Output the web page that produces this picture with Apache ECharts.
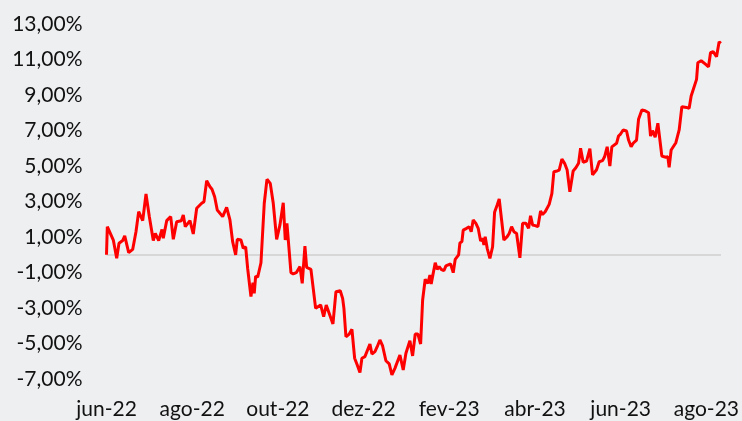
<!DOCTYPE html>
<html>
<head>
<meta charset="utf-8">
<script src="https://cdn.jsdelivr.net/npm/echarts@6/dist/echarts.min.js"></script>
<style>
html,body{margin:0;padding:0;background:#eeeff1;}
#c{width:742px;height:421px;}
</style>
</head>
<body>
<div id="c"></div>
<script>
// x: months elapsed since start of jun-22; y: cumulative return (%)
const monthLabels = ['jun-22','ago-22','out-22','dez-22','fev-23','abr-23','jun-23','ago-23'];
const yTicks = [-7,-5,-3,-1,1,3,5,7,9,11,13];
const t = [
0,0.019,0.065,0.159,0.238,0.292,0.378,0.425,0.518,0.611,
0.688,0.751,0.845,0.922,0.999,1.092,1.139,1.218,1.295,1.325,
1.405,1.498,1.559,1.638,1.745,1.792,1.839,1.948,2.025,2.105,
2.221,2.275,2.338,2.415,2.462,2.524,2.585,2.711,2.804,2.881,
2.944,3.014,3.052,3.138,3.192,3.248,3.294,3.371,3.418,3.448,
3.481,3.528,3.605,3.682,3.745,3.822,3.892,3.971,4.048,4.125,
4.172,4.211,4.305,4.358,4.428,4.461,4.515,4.568,4.631,4.671,
4.771,4.881,4.998,5.068,5.128,5.285,5.355,5.455,5.511,5.541,
5.588,5.665,5.728,5.791,5.852,5.915,5.961,6.031,6.148,6.195,
6.265,6.318,6.381,6.444,6.521,6.598,6.661,6.731,6.848,6.925,
6.988,7.081,7.144,7.205,7.268,7.331,7.378,7.438,7.501,7.548,
7.578,7.625,7.672,7.718,7.765,7.812,7.874,7.921,8.031,8.092,
8.138,8.218,8.248,8.295,8.325,8.404,8.465,8.512,8.558,8.621,
8.675,8.731,8.777,8.808,8.838,8.885,8.948,9.011,9.057,9.118,
9.165,9.221,9.274,9.351,9.398,9.454,9.508,9.571,9.617,9.648,
9.711,9.788,9.851,9.897,9.944,10.005,10.068,10.131,10.177,10.238,
10.331,10.394,10.441,10.518,10.565,10.628,10.691,10.751,10.814,10.891,
10.954,11.017,11.064,11.125,11.204,11.281,11.344,11.437,11.498,11.577,
11.624,11.685,11.748,11.794,11.904,11.950,11.997,12.058,12.137,12.184,
12.244,12.291,12.370,12.417,12.448,12.494,12.571,12.651,12.697,12.744,
12.805,12.868,12.961,13.054,13.101,13.131,13.178,13.288,13.365,13.428,
13.537,13.598,13.645,13.771,13.801,13.878,13.971,14.050,14.097,14.158,
14.237,14.298,14.337
];
const ret = [
0.00,1.58,1.55,0.83,-0.20,0.65,0.80,1.06,0.12,0.30,
1.30,2.43,1.92,3.42,2.15,0.80,1.20,0.80,1.43,0.93,
1.92,2.15,0.87,1.86,1.92,2.24,1.58,1.92,1.17,2.62,
2.90,2.99,4.17,3.83,3.69,3.27,2.52,2.15,2.67,1.96,
0.74,-0.01,0.87,0.83,0.36,0.45,-0.76,-2.36,-1.57,-2.17,
-1.20,-1.27,-0.45,2.90,4.25,4.02,2.90,0.87,1.68,2.93,
0.83,1.77,-1.01,-1.08,-1.01,-1.08,-0.67,-1.61,0.49,-0.71,
-0.82,-3.02,-2.83,-3.49,-2.83,-3.90,-2.08,-2.03,-2.46,-3.02,
-4.62,-4.47,-4.20,-5.83,-6.21,-6.64,-5.83,-5.74,-5.03,-5.59,
-5.46,-5.18,-4.80,-5.14,-5.97,-6.15,-6.77,-6.40,-5.65,-6.49,
-5.55,-4.84,-5.70,-4.47,-4.47,-5.03,-2.55,-1.38,-1.61,-1.14,
-1.65,-1.04,-0.45,-0.82,-0.67,-0.82,-0.90,-0.63,-0.52,-1.01,
-0.26,-0.01,0.66,0.74,1.39,1.49,1.58,1.30,1.96,1.77,
1.49,0.77,0.93,0.55,1.02,0.36,-0.20,0.45,2.39,2.80,
3.14,1.96,0.83,1.02,1.20,1.58,1.30,1.20,1.11,-0.17,
1.77,1.77,1.49,2.20,1.68,1.64,1.58,2.46,2.27,2.42,
2.84,3.44,4.68,4.72,4.77,5.39,5.15,4.77,3.55,4.72,
4.90,5.15,6.00,5.21,5.28,5.98,4.50,4.79,5.24,5.30,
5.52,6.08,5.00,6.08,6.28,6.69,6.80,7.03,6.97,6.46,
6.08,6.28,6.46,7.63,7.69,8.15,8.11,8.00,6.69,6.99,
6.62,7.41,5.56,5.49,5.52,4.93,5.90,6.31,7.03,8.34,
8.30,8.25,8.94,9.88,10.82,10.93,10.75,10.59,11.38,11.44,
11.16,12.00,11.91
];

const data = t.map((x, i) => [x, ret[i]]);
const chart = echarts.init(document.getElementById('c'), null, {renderer: 'canvas'});
const fontFamily = 'Lato, "Open Sans", sans-serif';
chart.setOption({
  backgroundColor: '#eeeff1',
  animation: false,
  grid: {left: 106.5, right: 21, top: 24, bottom: 42, containLabel: false},
  xAxis: {
    type: 'value',
    min: 0,
    max: 14.34,
    interval: 2,
    axisLine: {show: false, onZero: false},
    axisTick: {show: false},
    splitLine: {show: false},
    axisLabel: {
      margin: 20,
      fontSize: 21,
      fontFamily: fontFamily,
      color: '#111111',
      showMaxLabel: true,
      formatter: function (v) {
        const k = Math.round(v / 2);
        if (Math.abs(v - k * 2) > 1e-6) return '';
        return monthLabels[k] || '';
      }
    }
  },
  yAxis: {
    type: 'value',
    min: yTicks[0],
    max: yTicks[yTicks.length - 1],
    interval: 2,
    axisLine: {show: false},
    axisTick: {show: false},
    splitLine: {show: false},
    axisLabel: {
      margin: 24,
      fontSize: 21,
      fontFamily: fontFamily,
      color: '#111111',
      formatter: function (v) {
        return v.toFixed(2).replace('.', ',') + '%';
      }
    }
  },
  series: [{
    type: 'line',
    data: data,
    showSymbol: false,
    symbol: 'none',
    lineStyle: {color: '#ff0000', width: 3},
    z: 3,
    markLine: {
      silent: true,
      symbol: ['none', 'none'],
      label: {show: false},
      lineStyle: {color: '#cfcfcf', width: 1.5, type: 'solid'},
      data: [{yAxis: 0}],
      z: 1
    }
  }]
});
</script>
</body>
</html>
